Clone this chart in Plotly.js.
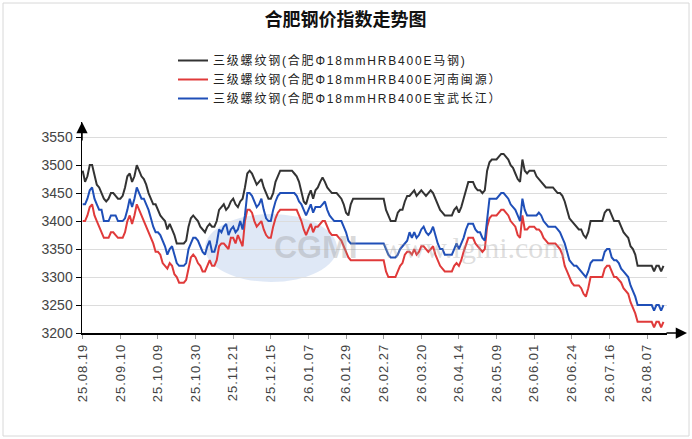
<!DOCTYPE html>
<html>
<head>
<meta charset="utf-8">
<script src="https://cdn.plot.ly/plotly-3.0.1.min.js"></script>
<style>
  html, body { margin: 0; padding: 0; background: #fff; }
  #chart { width: 692px; height: 439px; }
  .xtick text { letter-spacing: 1px; }
  .legendtext { letter-spacing: 1.8px; }
</style>
</head>
<body>
<div id="chart"></div>
<script>
// tick labels, one every 16 trading days
var xLabels = ['25.08.19', '25.09.10', '25.10.09', '25.10.30', '25.11.21', '25.12.15', '26.01.07', '26.01.29',
               '26.02.27', '26.03.20', '26.04.14', '26.05.09', '26.06.01', '26.06.24', '26.07.16', '26.08.07'];
var labelStep = 16;

var yTicks = [3200, 3250, 3300, 3350, 3400, 3450, 3500, 3550];

var seriesNames = [
  '三级螺纹钢(合肥Φ18mmHRB400E马钢)',
  '三级螺纹钢(合肥Φ18mmHRB400E河南闽源）',
  '三级螺纹钢(合肥Φ18mmHRB400E宝武长江）'
];

// 马钢
var maGang = [
  3490,3470,3480,3500,3500,3480,3465,3460,3450,3440,3435,3440,3450,3450,3445,3440,
  3440,3445,3460,3480,3485,3470,3480,3500,3490,3480,3475,3465,3450,3440,3430,3430,
  3420,3410,3405,3400,3385,3395,3385,3375,3360,3360,3360,3360,3365,3390,3405,3410,
  3405,3400,3390,3385,3380,3390,3395,3390,3390,3400,3420,3425,3430,3420,3425,3435,
  3440,3430,3425,3435,3440,3460,3485,3490,3485,3475,3465,3470,3475,3460,3450,3440,
  3440,3450,3470,3480,3490,3490,3490,3490,3490,3490,3485,3480,3470,3450,3435,3430,
  3445,3455,3440,3455,3460,3470,3478,3470,3460,3455,3450,3450,3450,3445,3440,3430,
  3415,3410,3430,3440,3440,3440,3440,3440,3440,3440,3440,3440,3440,3440,3440,3440,
  3440,3420,3410,3400,3400,3400,3415,3420,3420,3435,3445,3445,3450,3455,3445,3450,
  3455,3450,3445,3450,3455,3450,3440,3430,3420,3415,3410,3410,3410,3410,3420,3425,
  3415,3425,3440,3455,3470,3470,3470,3460,3455,3455,3450,3455,3490,3505,3510,3510,
  3510,3515,3520,3520,3515,3510,3500,3495,3485,3475,3470,3510,3490,3485,3490,3490,
  3490,3480,3475,3470,3465,3460,3460,3460,3460,3455,3450,3450,3445,3435,3420,3405,
  3400,3395,3390,3385,3385,3375,3370,3380,3400,3400,3400,3400,3400,3400,3415,3420,
  3420,3410,3400,3400,3400,3390,3380,3375,3370,3355,3350,3340,3320,3320,3320,3320,
  3320,3320,3320,3310,3320,3320,3310,3320
];

// 河南闽源
var minYuan = [
  3400,3400,3410,3425,3430,3410,3400,3390,3380,3370,3370,3370,3380,3380,3375,3370,
  3370,3370,3380,3400,3410,3395,3410,3430,3420,3410,3400,3390,3380,3370,3360,3345,
  3345,3340,3325,3320,3315,3325,3320,3305,3300,3290,3290,3290,3295,3315,3335,3340,
  3335,3325,3320,3310,3310,3320,3330,3320,3320,3330,3355,3360,3360,3355,3350,3370,
  3370,3360,3375,3365,3355,3400,3420,3420,3415,3400,3390,3395,3400,3385,3375,3370,
  3370,3390,3405,3415,3420,3420,3420,3420,3420,3420,3420,3420,3410,3400,3385,3375,
  3385,3395,3380,3390,3390,3395,3400,3400,3390,3380,3375,3375,3375,3370,3365,3355,
  3345,3335,3330,3330,3330,3330,3330,3330,3330,3330,3330,3330,3330,3330,3330,3330,
  3330,3310,3300,3300,3300,3300,3310,3320,3325,3340,3345,3345,3340,3350,3340,3345,
  3355,3355,3350,3345,3350,3355,3340,3330,3320,3315,3310,3310,3310,3310,3320,3325,
  3320,3330,3345,3360,3370,3370,3370,3360,3355,3350,3345,3350,3390,3405,3410,3410,
  3410,3415,3420,3420,3415,3410,3400,3395,3390,3375,3370,3410,3385,3385,3390,3390,
  3390,3385,3385,3380,3370,3365,3360,3360,3360,3360,3355,3350,3340,3320,3310,3300,
  3290,3285,3285,3285,3280,3270,3265,3280,3300,3300,3300,3300,3300,3300,3315,3320,
  3320,3310,3300,3300,3295,3290,3280,3275,3270,3255,3245,3235,3220,3220,3220,3220,
  3220,3220,3220,3210,3220,3220,3210,3220
];

// 宝武长江
var baoWu = [
  3430,3430,3440,3455,3460,3440,3430,3420,3420,3400,3400,3400,3410,3410,3410,3400,
  3400,3400,3405,3420,3440,3425,3440,3460,3450,3440,3440,3430,3420,3405,3390,3380,
  3380,3375,3365,3355,3340,3350,3355,3340,3325,3320,3320,3320,3325,3350,3360,3370,
  3370,3365,3355,3345,3340,3355,3365,3345,3345,3360,3385,3380,3390,3395,3375,3385,
  3390,3380,3385,3400,3385,3410,3450,3450,3445,3435,3425,3430,3440,3420,3405,3400,
  3400,3420,3435,3445,3450,3450,3450,3450,3450,3450,3450,3445,3435,3430,3420,3410,
  3420,3430,3415,3425,3425,3425,3430,3435,3420,3410,3405,3400,3400,3400,3400,3390,
  3380,3365,3360,3360,3360,3360,3360,3360,3360,3360,3360,3360,3360,3360,3360,3360,
  3360,3350,3340,3335,3335,3335,3340,3350,3355,3360,3365,3380,3370,3380,3370,3375,
  3385,3390,3380,3375,3380,3390,3375,3360,3350,3350,3340,3340,3340,3340,3350,3360,
  3350,3360,3370,3385,3395,3395,3395,3385,3380,3380,3370,3365,3400,3440,3440,3440,
  3440,3445,3450,3450,3445,3440,3430,3425,3420,3410,3400,3440,3420,3410,3410,3410,
  3410,3410,3415,3410,3400,3395,3390,3390,3390,3390,3385,3380,3370,3360,3345,3330,
  3325,3320,3320,3315,3310,3305,3300,3310,3325,3330,3330,3330,3330,3330,3345,3350,
  3350,3335,3330,3330,3325,3315,3310,3305,3300,3285,3275,3265,3250,3250,3250,3250,
  3250,3250,3250,3240,3250,3250,3240,3250
];

var colors = ['#333333', '#e03a3a', '#1f4fb8'];
var fontFamily = 'Liberation Sans, Arial, Noto Sans CJK SC, sans-serif';

function dayIndex(arr) {
  var out = [];
  for (var i = 0; i < arr.length; i++) out.push(i);
  return out;
}

var data = [];
var all = [maGang, minYuan, baoWu];
for (var s = 0; s < all.length; s++) {
  data.push({
    x: dayIndex(all[s]),
    y: all[s],
    name: seriesNames[s],
    mode: 'lines',
    type: 'scatter',
    line: { color: colors[s], width: 2 },
    hoverinfo: 'skip'
  });
}

var tickVals = [];
for (var k = 0; k < xLabels.length; k++) tickVals.push(k * labelStep);

// plot area in pixels: x 82..667, y 122..333
var L = 82, R = 667, T = 122, B = 333;
function px(x) { return (x - L) / (R - L); }
function py(y) { return (B - y) / (B - T); }

var layout = {
  width: 692,
  height: 439,
  margin: { l: L, r: 692 - R, t: T, b: 439 - B },
  paper_bgcolor: '#ffffff',
  plot_bgcolor: '#ffffff',
  title: {
    text: '<b>合肥钢价指数走势图</b>',
    font: { family: 'Noto Sans CJK SC, sans-serif', size: 18, color: '#111' },
    xref: 'container', x: 345.5 / 692, xanchor: 'center',
    yref: 'container', y: 1 - 20 / 439, yanchor: 'middle'
  },
  showlegend: true,
  legend: {
    x: px(173), y: py(46), xanchor: 'left', yanchor: 'top',
    font: { family: fontFamily, size: 12, color: '#222' },
    bgcolor: 'rgba(0,0,0,0)',
    tracegroupgap: 0
  },
  xaxis: {
    range: [-0.3, 248.5],
    tickvals: tickVals,
    ticktext: xLabels,
    tickangle: -90,
    ticks: 'outside', ticklen: 4, tickcolor: '#999',
    showgrid: false, zeroline: false,
    showline: true, linecolor: '#000', linewidth: 1.5,
    tickfont: { family: fontFamily, size: 13, color: '#444' },
    fixedrange: true
  },
  yaxis: {
    range: [3200, 3577],
    tickvals: yTicks,
    ticks: 'outside', ticklen: 5, tickcolor: '#000',
    showgrid: true, gridcolor: '#dcdcdc', gridwidth: 1,
    zeroline: false,
    showline: true, linecolor: '#000', linewidth: 1.5,
    tickfont: { family: fontFamily, size: 14, color: '#444' },
    fixedrange: true
  },
  shapes: [
    { type: 'rect', xref: 'paper', yref: 'paper', x0: px(3), x1: px(689), y0: py(436), y1: py(3),
      line: { color: '#d8d8d8', width: 1 }, layer: 'below' },
    // watermark logo
    { type: 'circle', xref: 'paper', yref: 'paper', x0: px(205), x1: px(337), y0: py(282), y1: py(214),
      fillcolor: 'rgba(110,150,215,0.22)', line: { width: 0 }, layer: 'below' }
  ],
  annotations: [
    { xref: 'paper', yref: 'paper', x: px(687), y: 0, ax: -22, ay: 0, axref: 'pixel', ayref: 'pixel',
      text: '', showarrow: true, arrowhead: 2, arrowsize: 1.5, arrowwidth: 1.5, arrowcolor: '#000' },
    { xref: 'paper', yref: 'paper', x: 0, y: 1, ax: 0, ay: 20, axref: 'pixel', ayref: 'pixel',
      text: '', showarrow: true, arrowhead: 2, arrowsize: 1.5, arrowwidth: 1.5, arrowcolor: '#000' },
    { xref: 'paper', yref: 'paper', x: px(272), y: py(247), showarrow: false,
      text: '<b>CGMI</b>', font: { family: 'Liberation Sans, sans-serif', size: 32, color: 'rgba(150,150,150,0.35)' } },
    { xref: 'paper', yref: 'paper', x: px(380), y: py(247), xanchor: 'left', showarrow: false,
      text: 'www.lgmi.com', font: { family: 'Liberation Serif, serif', size: 30, color: 'rgba(160,160,160,0.35)' } }
  ]
};

Plotly.newPlot('chart', data, layout, { displayModeBar: false, staticPlot: true });
</script>
</body>
</html>
